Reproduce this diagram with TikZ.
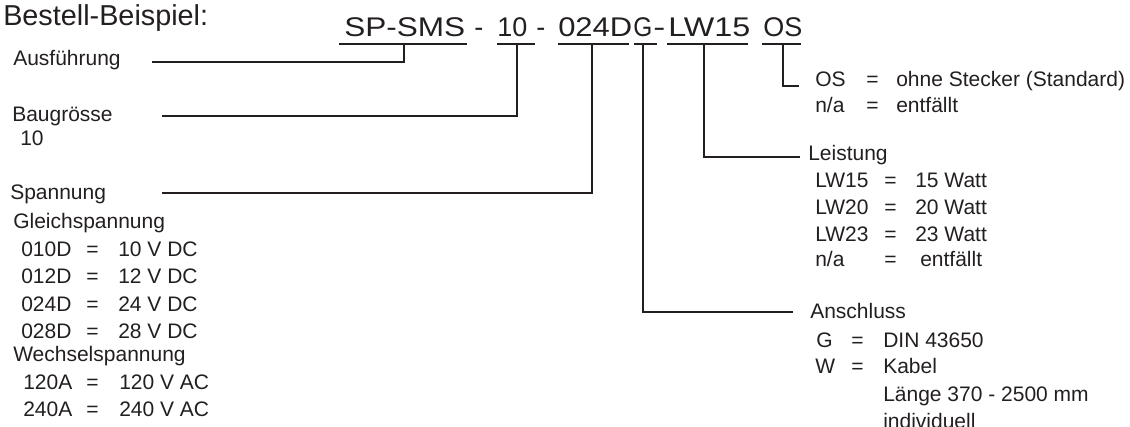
\documentclass[tikz,border=0pt]{standalone}
\usepackage{fontspec}
\usepackage{graphicx}
\setmainfont{Liberation Sans}
\newlength\pxu
\setlength\pxu{0.75pt}
\definecolor{ink}{HTML}{231F20}
\tikzset{
  lbl/.style={anchor=base west, inner sep=0pt, text=ink, font=\fontsize{15.75pt}{18pt}\selectfont},
  ttl/.style={anchor=base west, inner sep=0pt, text=ink, font=\fontsize{21.6pt}{24pt}\selectfont},
  code/.style={anchor=base west, inner sep=0pt, text=ink, font=\fontsize{20.25pt}{23pt}\selectfont},
  conn/.style={draw=ink, line width=1.5pt, line join=miter},
}
\begin{document}
\begin{tikzpicture}[x=0.75pt, y=-0.75pt]
\useasboundingbox (0,0) rectangle (1130,427);
% title
\node[ttl] (title) at (3,26) {Bestell-Beispiel:};
% code
\node[code] (c1) at (344,37) {\resizebox{121\pxu}{\height}{SP-SMS}};
\node[code] (h1) at (474,37) {-};
\node[code] (c2) at (497,37) {\resizebox{30\pxu}{\height}{10}};
\node[code] (h2) at (536,37) {-};
\node[code] (c3) at (558,37) {\resizebox{74\pxu}{\height}{024D}};
\node[code] (c4) at (633,37) {\resizebox{19\pxu}{\height}{G}};
\node[code] (h3) at (653,37) {\resizebox{12\pxu}{\height}{-}};
\node[code] (c5) at (668,37) {\resizebox{82\pxu}{\height}{LW15}};
\node[code] (c6) at (763,37) {\resizebox{39\pxu}{\height}{OS}};
% underlines
\draw[conn] (339,44) -- (467,44);
\draw[conn] (497,44) -- (535,44);
\draw[conn] (558,44) -- (629,44);
\draw[conn] (634,44) -- (657,44);
\draw[conn] (667,44) -- (748,44);
\draw[conn] (762,44) -- (801,44);
% connector anchors
\coordinate (u1) at (404,44);
\coordinate (u2) at (517,44);
\coordinate (u3) at (592,44);
\coordinate (u4) at (643,44);
\coordinate (u5) at (704,44);
\coordinate (u6) at (783,44);
\coordinate (e1) at (152,62);
\coordinate (e2) at (162,116);
\coordinate (e3) at (162,193);
\coordinate (e4) at (793,312);
\coordinate (e5) at (800,157);
\coordinate (e6) at (799,86);
\draw[conn] (u1) |- (e1);
\draw[conn] (u2) |- (e2);
\draw[conn] (u3) |- (e3);
\draw[conn] (u4) |- (e4);
\draw[conn] (u5) |- (e5);
\draw[conn] (u6) |- (e6);
% left labels
\node[lbl] (aus) at (13,66) {Ausführung};
\node[lbl] (bau) at (12,122) {Baugrösse};
\node[lbl] (bau10) at (20,146) {10};
\node[lbl] (spa) at (10,200) {Spannung};
\node[lbl] (gle) at (13,229) {Gleichspannung};
\node[lbl] (d1a) at (21,257) {010D};
\node[lbl] (d1b) at (86,257) {=};
\node[lbl] (d1c) at (118,257) {10 V DC};
\node[lbl] (d2a) at (21,284) {012D};
\node[lbl] (d2b) at (86,284) {=};
\node[lbl] (d2c) at (118,284) {12 V DC};
\node[lbl] (d3a) at (21,311) {024D};
\node[lbl] (d3b) at (86,311) {=};
\node[lbl] (d3c) at (118,311) {24 V DC};
\node[lbl] (d4a) at (21,338) {028D};
\node[lbl] (d4b) at (86,338) {=};
\node[lbl] (d4c) at (118,338) {28 V DC};
\node[lbl] (wec) at (13,361) {Wechselspannung};
\node[lbl] (a1a) at (23,389) {120A};
\node[lbl] (a1b) at (86,389) {=};
\node[lbl] (a1c) at (119,389) {120 V AC};
\node[lbl] (a2a) at (23,416) {240A};
\node[lbl] (a2b) at (86,416) {=};
\node[lbl] (a2c) at (119,416) {240 V AC};
% right: OS
\node[lbl] (os1a) at (815,87) {OS};
\node[lbl] (os1b) at (866,87) {=};
\node[lbl] (os1c) at (896,87) {ohne Stecker (Standard)};
\node[lbl] (os2a) at (815,113) {n/a};
\node[lbl] (os2b) at (866,113) {=};
\node[lbl] (os2c) at (896,113) {entfällt};
% Leistung
\node[lbl] (lei) at (808,161) {Leistung};
\node[lbl] (l1a) at (815,188) {LW15};
\node[lbl] (l1b) at (884,188) {=};
\node[lbl] (l1c) at (915,188) {15 Watt};
\node[lbl] (l2a) at (815,215) {LW20};
\node[lbl] (l2b) at (884,215) {=};
\node[lbl] (l2c) at (915,215) {20 Watt};
\node[lbl] (l3a) at (815,242) {LW23};
\node[lbl] (l3b) at (884,242) {=};
\node[lbl] (l3c) at (915,242) {23 Watt};
\node[lbl] (l4a) at (815,267) {n/a};
\node[lbl] (l4b) at (884,267) {=};
\node[lbl] (l4c) at (920,267) {entfällt};
% Anschluss
\node[lbl] (ans) at (810,318) {Anschluss};
\node[lbl] (g1a) at (816,347) {G};
\node[lbl] (g1b) at (851,347) {=};
\node[lbl] (g1c) at (883,347) {DIN 43650};
\node[lbl] (g2a) at (815,373) {W};
\node[lbl] (g2b) at (851,373) {=};
\node[lbl] (g2c) at (883,373) {Kabel};
\node[lbl] (g3) at (883,401) {Länge 370 - 2500 mm};
\node[lbl] (g4) at (883,428) {individuell};
\end{tikzpicture}
\end{document}
